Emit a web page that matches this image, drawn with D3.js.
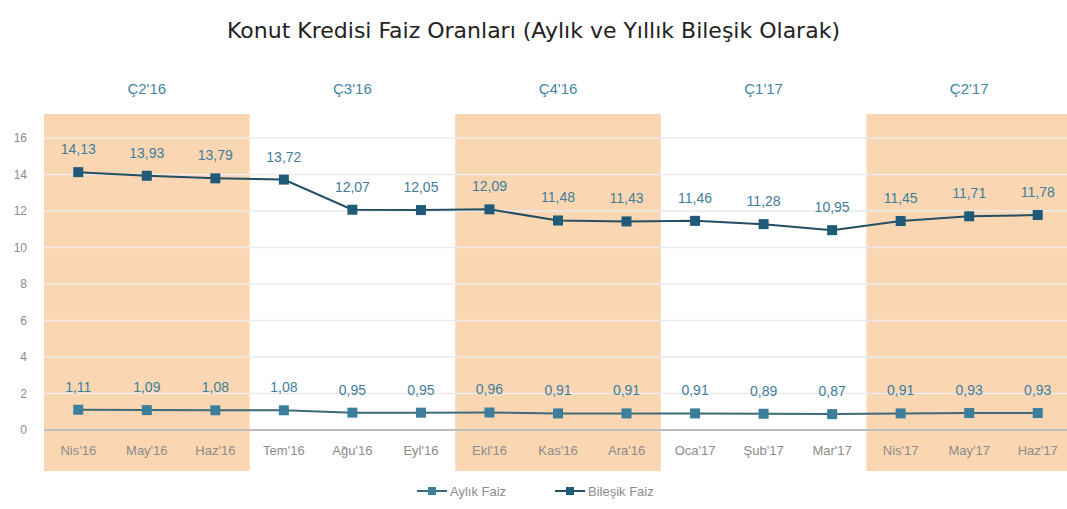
<!DOCTYPE html>
<html>
<head>
<meta charset="utf-8">
<script src="https://cdn.jsdelivr.net/npm/d3@7"></script>
<style>
  body { margin: 0; background: #fff; }
  svg text { font-family: "Liberation Sans", Arial, sans-serif; }
</style>
</head>
<body>
<div id="chart"></div>
<script>
// data
const months = ["Nis'16", "May'16", "Haz'16", "Tem'16", "Ağu'16", "Eyl'16", "Ekl'16", "Kas'16", "Ara'16",
                "Oca'17", "Şub'17", "Mar'17", "Nis'17", "May'17", "Haz'17"];
const quarters = ["Ç2'16", "Ç3'16", "Ç4'16", "Ç1'17", "Ç2'17"];
const shadedQuarters = ["Ç2'16", "Ç4'16", "Ç2'17"];
const aylik = [1.11, 1.09, 1.08, 1.08, 0.95, 0.95, 0.96, 0.91, 0.91, 0.91, 0.89, 0.87, 0.91, 0.93, 0.93];
const bilesik = [14.13, 13.93, 13.79, 13.72, 12.07, 12.05, 12.09, 11.48, 11.43, 11.46, 11.28, 10.95, 11.45, 11.71, 11.78];
const yTicks = [0, 2, 4, 6, 8, 10, 12, 14, 16];

const W = 1067, H = 509;
const fmt = function(v) { return d3.format(".2f")(v).replace(".", ","); };

const svg = d3.select("#chart").append("svg")
    .attr("width", W)
    .attr("height", H);

const x = d3.scaleBand().domain(months).range([44, 1072]);
const y = d3.scaleLinear().domain([0, 16]).range([430, 138]);
const cx = function(m) { return x(m) + x.bandwidth() / 2; };

// quarter shading
quarters.forEach(function(q, i) {
    const first = months[i * 3], last = months[i * 3 + 2];
    if (shadedQuarters.indexOf(q) >= 0) {
        svg.append("rect")
            .attr("x", x(first))
            .attr("y", 114)
            .attr("width", x(last) + x.bandwidth() - x(first))
            .attr("height", 357)
            .attr("fill", "#fad6b3");
    }
    svg.append("text")
        .attr("x", (cx(first) + cx(last)) / 2)
        .attr("y", 94)
        .attr("text-anchor", "middle")
        .attr("fill", "#3f86a6")
        .style("font-size", "15px")
        .text(q);
});

// gridlines
svg.append("g").selectAll("line")
    .data(yTicks.filter(function(d) { return d > 0; }))
    .enter()
    .append("line")
    .attr("x1", 44).attr("x2", W)
    .attr("y1", function(d) { return y(d); })
    .attr("y2", function(d) { return y(d); })
    .attr("stroke", "#ebebeb")
    .attr("stroke-width", 1.5);

svg.append("line")
    .attr("x1", 44).attr("x2", W)
    .attr("y1", y(0)).attr("y2", y(0))
    .attr("stroke", "#bdbdbd")
    .attr("stroke-width", 2);

// y axis
const yAxis = svg.append("g")
    .attr("transform", "translate(27,0)")
    .call(d3.axisLeft(y).tickValues(yTicks).tickSize(0).tickPadding(0));
yAxis.select(".domain").remove();
yAxis.selectAll("text")
    .attr("fill", "#8c8c8c")
    .style("font-size", "12px")
    .style("font-family", "'Liberation Sans', Arial, sans-serif");

// x axis
const xAxis = svg.append("g")
    .attr("transform", "translate(0," + 446 + ")")
    .call(d3.axisBottom(x).tickSize(0).tickPadding(0));
xAxis.select(".domain").remove();
xAxis.selectAll("text")
    .attr("fill", "#8c8c8c")
    .style("font-size", "13px")
    .style("font-family", "'Liberation Sans', Arial, sans-serif");

// series
const series = [
    {name: "Aylık Faiz", values: aylik, line: "#3e6b7a", marker: "#3b7f9c"},
    {name: "Bileşik Faiz", values: bilesik, line: "#234f63", marker: "#1f5a78"}
];

const line = d3.line()
    .x(function(d, i) { return cx(months[i]); })
    .y(function(d) { return y(d); });

series.forEach(function(s) {
    svg.append("path")
        .datum(s.values)
        .attr("fill", "none")
        .attr("stroke", s.line)
        .attr("stroke-width", 2)
        .attr("d", line);

    svg.append("g").selectAll("rect")
        .data(s.values)
        .enter()
        .append("rect")
        .attr("x", function(d, i) { return cx(months[i]) - 5; })
        .attr("y", function(d) { return y(d) - 5; })
        .attr("width", 10)
        .attr("height", 10)
        .attr("fill", s.marker);

    svg.append("g").selectAll("text")
        .data(s.values)
        .enter()
        .append("text")
        .attr("x", function(d, i) { return cx(months[i]); })
        .attr("y", function(d) { return y(d) - 18; })
        .attr("text-anchor", "middle")
        .attr("fill", "#3f7d9b")
        .style("font-size", "14px")
        .text(function(d) { return fmt(d); });
});

// title
svg.append("text")
    .attr("x", W / 2)
    .attr("y", 38)
    .attr("text-anchor", "middle")
    .attr("fill", "#222")
    .style("font-family", "'DejaVu Sans', sans-serif")
    .style("font-size", "22px")
    .text("Konut Kredisi Faiz Oranları (Aylık ve Yıllık Bileşik Olarak)");

// legend
const legend = svg.append("g").attr("transform", "translate(0,491)");
const legendX = [417, 555];
series.forEach(function(s, i) {
    const lx = legendX[i];
    legend.append("line")
        .attr("x1", lx).attr("x2", lx + 30)
        .attr("stroke", s.line)
        .attr("stroke-width", 2);
    legend.append("rect")
        .attr("x", lx + 11).attr("y", -4)
        .attr("width", 8).attr("height", 8)
        .attr("fill", s.marker);
    legend.append("text")
        .attr("x", lx + 33)
        .attr("y", 4.5)
        .attr("fill", "#8c8c8c")
        .style("font-size", "13px")
        .text(s.name);
});
</script>
</body>
</html>
